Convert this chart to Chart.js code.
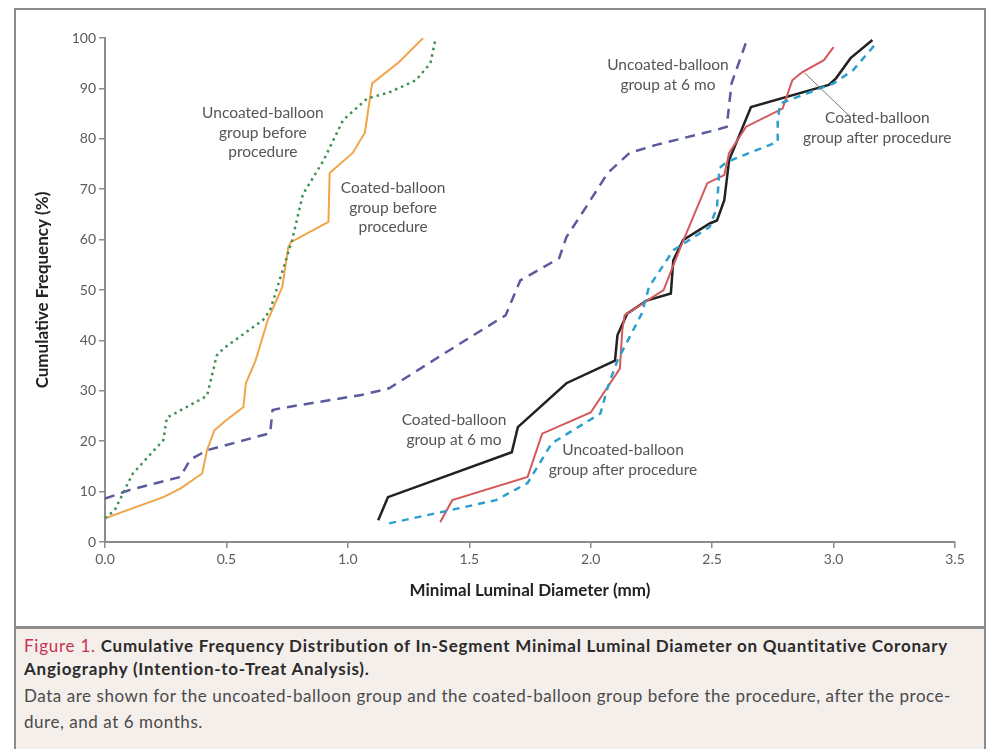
<!DOCTYPE html>
<html>
<head>
<meta charset="utf-8">
<script src="https://cdn.jsdelivr.net/npm/chart.js@4.4.1/dist/chart.umd.min.js"></script>
<style>
  html, body { margin:0; padding:0; background:#ffffff; }
  body { width:988px; height:749px; position:relative; overflow:hidden; font-family: Lato, "Open Sans", sans-serif; }
  #frame { position:absolute; left:14px; top:8px; width:972px; height:760px; border:2px solid #8c8c8c; box-sizing:border-box; background:#fff; }
  #caption { position:absolute; left:16px; top:626px; width:968px; height:130px; background:#f5efec; border-top:3px solid #8c8c8c; box-sizing:border-box; padding:5px 0 0 8px; }
  #caption .t { font-weight:bold; font-size:17px; line-height:23px; color:#2b2b2b; margin:0; letter-spacing:0.75px; white-space:nowrap; }
  #caption .t span { color:#c8324f; font-weight:normal; }
  #caption .b { font-size:17px; line-height:26px; color:#4a4a4a; margin:3px 0 0 0; letter-spacing:0.55px; white-space:nowrap; }
  #c { position:absolute; left:0; top:0; }
</style>
</head>
<body>
<div id="frame"></div>
<canvas id="c" width="988" height="627"></canvas>
<div id="caption">
  <p class="t"><span>Figure 1.</span> Cumulative Frequency Distribution of In-Segment Minimal Luminal Diameter on Quantitative Coronary<br>Angiography (Intention-to-Treat Analysis).</p>
  <p class="b">Data are shown for the uncoated-balloon group and the coated-balloon group before the procedure, after the proce-<br>dure, and at 6 months.</p>
</div>
<script>
// ---- data (minimal luminal diameter in mm, cumulative frequency in %) ----
const uncoatedBeforeX = [0, 0.04, 0.1, 0.115, 0.24, 0.255, 0.295, 0.42, 0.46, 0.49, 0.65, 0.68, 0.77, 0.815, 0.9, 0.98, 1.08, 1.17, 1.28, 1.34, 1.36];
const uncoatedBeforeY = [4.7, 6.3, 12.2, 13.6, 20.2, 24.7, 25.7, 29, 37, 38.5, 44, 46, 59.8, 69, 75.7, 83.7, 88, 89.2, 91.6, 95, 99.6];

const coatedBeforeX = [0, 0.24, 0.31, 0.40, 0.42, 0.45, 0.49, 0.57, 0.58, 0.62, 0.67, 0.73, 0.755, 0.765, 0.92, 0.925, 1.02, 1.07, 1.09, 1.10, 1.21, 1.31];
const coatedBeforeY = [4.7, 8.9, 10.6, 13.6, 18.2, 22.1, 23.8, 26.8, 31.5, 36, 44, 50.6, 58.5, 59.5, 63.5, 73.2, 77.2, 81.2, 87.7, 91, 95.2, 100];

const uncoated6moX = [0, 0.1, 0.31, 0.35, 0.42, 0.68, 0.69, 0.73, 1.06, 1.17, 1.42, 1.65, 1.71, 1.87, 1.90, 1.98, 2.07, 2.16, 2.27, 2.52, 2.56, 2.58, 2.64];
const uncoated6moY = [8.6, 10.3, 12.9, 16.3, 18.2, 21.6, 26.2, 26.6, 29.2, 30.5, 38.1, 45, 51.9, 56.3, 60.5, 66.4, 73.2, 77.2, 78.8, 81.8, 82.4, 91, 99.2];

const coated6moX = [1.125, 1.165, 1.675, 1.70, 1.90, 2.10, 2.11, 2.15, 2.23, 2.33, 2.34, 2.38, 2.49, 2.52, 2.55, 2.57, 2.66, 2.98, 3.01, 3.07, 3.16];
const coated6moY = [4.3, 8.9, 17.8, 22.8, 31.5, 36, 41, 45.3, 47.9, 49.3, 55.9, 59.9, 63.2, 63.8, 67.8, 75.8, 86.3, 90.7, 92, 96, 99.6];

const coatedAfterX = [1.38, 1.43, 1.74, 1.80, 2.00, 2.12, 2.13, 2.14, 2.30, 2.37, 2.48, 2.55, 2.57, 2.64, 2.79, 2.83, 2.87, 2.96, 3.00];
const coatedAfterY = [3.9, 8.3, 12.9, 21.5, 25.7, 34.4, 42, 45, 50, 58.5, 71.2, 72.8, 77.2, 82.4, 86, 91.6, 93.2, 95.6, 98.2];

const uncoatedAfterX = [1.17, 1.42, 1.61, 1.74, 1.84, 2.04, 2.07, 2.11, 2.21, 2.24, 2.34, 2.49, 2.52, 2.53, 2.56, 2.77, 2.77, 2.78, 3.00, 3.08, 3.18];
const uncoatedAfterY = [3.7, 6.3, 8.3, 11.7, 19.6, 25.5, 30.7, 36, 45.3, 50.6, 57.9, 62.5, 66.5, 74.2, 75.4, 79.4, 83.7, 87, 91, 93.6, 99.2];

const xTicks = [0, 0.5, 1.0, 1.5, 2.0, 2.5, 3.0, 3.5];
const yTicks = [0, 10, 20, 30, 40, 50, 60, 70, 80, 90, 100];

// curve labels: text lines, anchor (data units)
const labelTexts = [
  ["Uncoated-balloon", "group before", "procedure"],
  ["Coated-balloon", "group before", "procedure"],
  ["Uncoated-balloon", "group at 6 mo"],
  ["Coated-balloon", "group after procedure"],
  ["Coated-balloon", "group at 6 mo"],
  ["Uncoated-balloon", "group after procedure"]
];
const labelX = [0.65, 1.186, 2.318, 3.18, 1.437, 2.133];
const labelY = [85.1, 70.2, 94.6, 84.1, 24.2, 18.2];
const leaderX = [2.88, 3.07];
const leaderY = [93.1, 84.3];

const pts = (xs, ys) => xs.map((x, i) => ({x: x, y: ys[i]}));

function ds(label, xs, ys, color, width, dash) {
  return {
    label: label, data: pts(xs, ys), showLine: true, borderColor: color, backgroundColor: color,
    borderWidth: width, borderDash: dash, pointRadius: 0, tension: 0, fill: false,
    borderCapStyle: 'butt', borderJoinStyle: 'miter'
  };
}

const labelPlugin = {
  id: 'curveLabels',
  afterDatasetsDraw(chart) {
    const ctx = chart.ctx, xs = chart.scales.x, ys = chart.scales.y;
    ctx.save();
    // leader line
    ctx.strokeStyle = '#777';
    ctx.lineWidth = 1;
    ctx.beginPath();
    ctx.moveTo(xs.getPixelForValue(leaderX[0]), ys.getPixelForValue(leaderY[0]));
    ctx.lineTo(xs.getPixelForValue(leaderX[1]), ys.getPixelForValue(leaderY[1]));
    ctx.stroke();
    ctx.fillStyle = '#555';
    ctx.font = '15.5px Lato, "Open Sans", sans-serif';
    ctx.textAlign = 'center';
    ctx.textBaseline = 'middle';
    labelTexts.forEach((lines, i) => {
      const px = xs.getPixelForValue(labelX[i]);
      const py = ys.getPixelForValue(labelY[i]);
      lines.forEach((t, j) => ctx.fillText(t, px, py + j * 19.5));
    });
    ctx.restore();
  }
};

const tickFont = { family: 'Lato, "Open Sans", sans-serif', size: 14 };
const titleFont = { family: 'Lato, "Open Sans", sans-serif', size: 17, weight: 'bold' };

new Chart(document.getElementById('c'), {
  type: 'scatter',
  data: {
    datasets: [
      ds('Uncoated-balloon group before procedure', uncoatedBeforeX, uncoatedBeforeY, '#3e9152', 2.5, [2.5, 4]),
      ds('Coated-balloon group before procedure', coatedBeforeX, coatedBeforeY, '#f1a54a', 2, []),
      ds('Uncoated-balloon group at 6 mo', uncoated6moX, uncoated6moY, '#5a5a9e', 2.5, [10, 7]),
      ds('Uncoated-balloon group after procedure', uncoatedAfterX, uncoatedAfterY, '#2c9fcf', 2.5, [7, 6]),
      ds('Coated-balloon group after procedure', coatedAfterX, coatedAfterY, '#d5585a', 2, []),
      ds('Coated-balloon group at 6 mo', coated6moX, coated6moY, '#222222', 2.5, [])
    ]
  },
  options: {
    responsive: false,
    devicePixelRatio: 1,
    animation: false,
    layout: { padding: { left: 28, right: 33, top: 38, bottom: 22 } },
    plugins: { legend: { display: false }, tooltip: { enabled: false } },
    scales: {
      x: {
        type: 'linear', min: 0, max: 3.5,
        afterBuildTicks: (s) => { s.ticks = xTicks.map(v => ({ value: v })); },
        afterFit: (s) => { s.height = 63; },
        ticks: { color: '#5c5c5c', font: tickFont, padding: 3, callback: (v) => Number(v).toFixed(1), maxRotation: 0 },
        grid: { drawOnChartArea: false, drawTicks: true, tickLength: 6, color: '#8c8c8c', lineWidth: 1.5 },
        border: { display: true, color: '#8c8c8c', width: 2 },
        title: { display: true, text: 'Minimal Luminal Diameter (mm)', color: '#222', font: titleFont, padding: { top: 4, bottom: 4 } }
      },
      y: {
        type: 'linear', min: 0, max: 100,
        afterBuildTicks: (s) => { s.ticks = yTicks.map(v => ({ value: v })); },
        afterFit: (s) => { s.width = 77; },
        ticks: { color: '#5c5c5c', font: tickFont, padding: 3 },
        grid: { drawOnChartArea: false, drawTicks: true, tickLength: 6, color: '#8c8c8c', lineWidth: 1.5 },
        border: { display: true, color: '#8c8c8c', width: 2 },
        title: { display: true, text: 'Cumulative Frequency (%)', color: '#222', font: titleFont, padding: { top: 4, bottom: 4 } }
      }
    }
  },
  plugins: [labelPlugin]
});
</script>
</body>
</html>
